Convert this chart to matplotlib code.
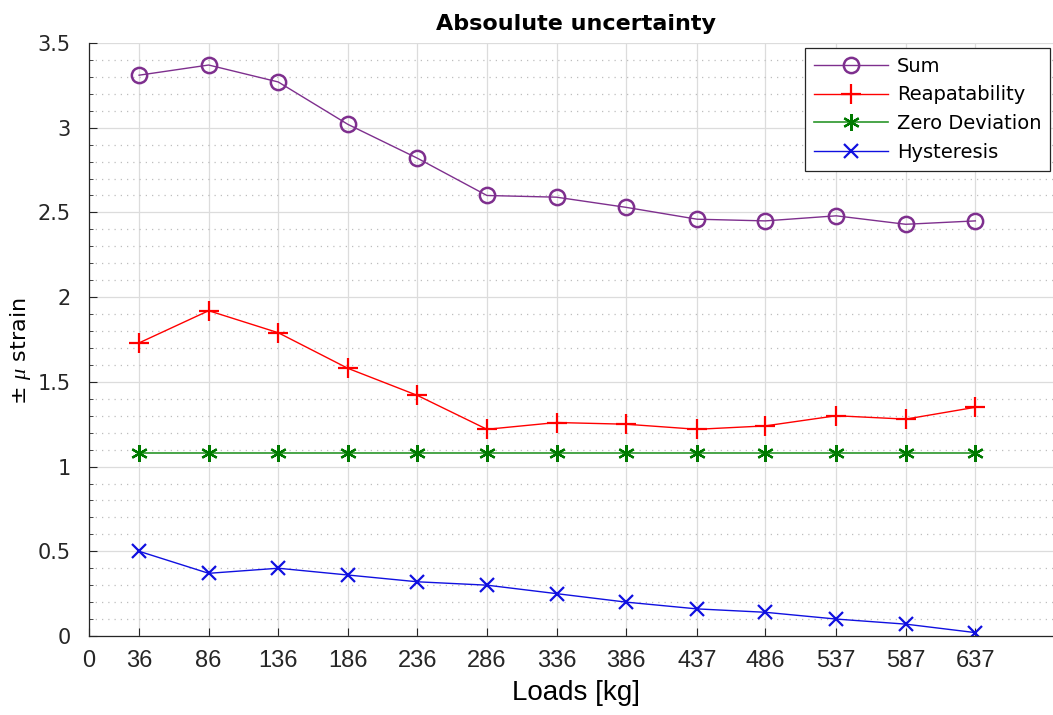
import matplotlib
matplotlib.use("Agg")
import matplotlib.pyplot as plt
from matplotlib import font_manager
from matplotlib.ticker import MultipleLocator

plt.rcParams['font.family'] = ['DejaVu Sans']
plt.rcParams['mathtext.fontset'] = 'custom'
plt.rcParams['mathtext.it'] = 'Liberation Serif:italic'

# narrow face for the x-axis text, if present
available = {f.name for f in font_manager.fontManager.ttflist}
narrow = ['Liberation Sans Narrow', 'DejaVu Sans'] if 'Liberation Sans Narrow' in available else ['Liberation Sans', 'DejaVu Sans']

loads = [36, 86, 136, 186, 236, 286, 336, 386, 437, 486, 537, 587, 637]
tick_labels = ['0'] + [str(v) for v in loads]
y_ticks = [0, 0.5, 1, 1.5, 2, 2.5, 3, 3.5]
y_tick_labels = ['0', '0.5', '1', '1.5', '2', '2.5', '3', '3.5']
sum_unc = [3.31, 3.37, 3.27, 3.02, 2.82, 2.60, 2.59, 2.53, 2.46, 2.45, 2.48, 2.43, 2.45]
repeatability = [1.73, 1.92, 1.79, 1.58, 1.42, 1.22, 1.26, 1.25, 1.22, 1.24, 1.30, 1.28, 1.35]
zero_dev = [1.08] * 13
hysteresis = [0.50, 0.37, 0.40, 0.36, 0.32, 0.30, 0.25, 0.20, 0.16, 0.14, 0.10, 0.07, 0.02]

fig = plt.figure(figsize=(10.53, 7.15), dpi=100)
ax = fig.add_axes([89 / 1053, 1 - 636 / 715, (1063 - 89) / 1053, (636 - 43) / 715])

ax.plot(loads, sum_unc, color='#7E2F8E', marker='o', markersize=11, markerfacecolor='none',
        markeredgewidth=1.8, linewidth=1.0, label='Sum')
ax.plot(loads, repeatability, color='#FF0000', marker='+', markersize=14,
        markeredgewidth=1.6, linewidth=1.0, label='Reapatability')
ax.plot(loads, zero_dev, color='#2A962A', linewidth=1.2, label='_nolegend_')
ax.plot(loads, zero_dev, color='#007A00', marker=(6, 2, 0), markersize=12,
        markeredgewidth=1.6, linestyle='none', label='_nolegend_')
ax.plot([], [], color='#2A962A', marker=(6, 2, 0), markersize=12, markeredgecolor='#007A00',
        markeredgewidth=1.6, linewidth=1.2, label='Zero Deviation')
ax.plot(loads, hysteresis, color='#1010E0', marker='x', markersize=10,
        markeredgewidth=1.6, linewidth=1.0, label='Hysteresis')

ax.set_xlim(0, 700)
ax.set_ylim(0, 3.5)
ax.set_xticks([0] + loads)
ax.set_xticklabels(tick_labels, family=narrow, fontsize=17)
ax.set_yticks(y_ticks)
ax.set_yticklabels(y_tick_labels, fontsize=15)
ax.yaxis.set_minor_locator(MultipleLocator(0.1))

ax.grid(which='major', color='#DCDCDC', linewidth=0.9, linestyle='-')
ax.grid(which='minor', axis='y', color='#BEBEBE', linewidth=0.9, linestyle=(0, (1, 4)))
ax.set_axisbelow(True)

for side in ('top', 'right'):
    ax.spines[side].set_visible(False)
for side in ('left', 'bottom'):
    ax.spines[side].set_color('#262626')
    ax.spines[side].set_linewidth(0.9)

ax.tick_params(which='both', direction='in', colors='#262626')
ax.tick_params(axis='x', which='major', length=6, pad=10)
ax.tick_params(axis='y', which='major', length=6, pad=13)
ax.tick_params(which='minor', length=3)
ax.tick_params(axis='x', which='minor', bottom=False)

ax.set_title('Absoulute uncertainty', fontsize=16, fontweight='bold', pad=9)
ax.set_xlabel('Loads [kg]', fontsize=20, family=narrow, labelpad=6)
ax.set_ylabel('± $\\mu$ strain', fontsize=16)
ax.yaxis.set_label_coords(-0.057, 0.48)

leg = ax.legend(loc='upper right', bbox_to_anchor=(1050 / 1053, 1 - 48 / 715),
                bbox_transform=fig.transFigure, fontsize=14, frameon=True, fancybox=False,
                edgecolor='#262626', framealpha=1, handlelength=3.8, borderpad=0.45,
                labelspacing=0.5, handletextpad=0.45, borderaxespad=0)
leg.get_frame().set_linewidth(0.9)

fig.savefig('out.png', dpi=100)
